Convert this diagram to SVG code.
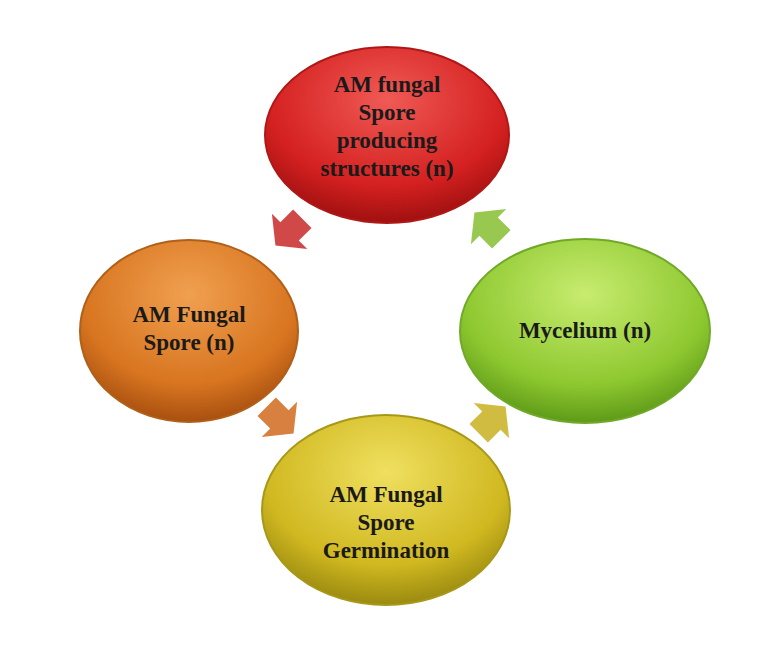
<svg xmlns="http://www.w3.org/2000/svg" width="776" height="671" viewBox="0 0 776 671">
<style>
.t{font-family:"Liberation Serif",serif;font-weight:bold;font-size:23px;fill:#1a1a1a;text-anchor:middle}
.e{stroke-width:2}
</style>
<defs>
<radialGradient id="gr" cx="50%" cy="30%" r="70%"><stop offset="0" stop-color="#f05a55"/><stop offset="0.7" stop-color="#d42020"/><stop offset="1" stop-color="#a01010"/></radialGradient>
<radialGradient id="go" cx="50%" cy="30%" r="70%"><stop offset="0" stop-color="#f0a050"/><stop offset="0.7" stop-color="#d87520"/><stop offset="1" stop-color="#a85010"/></radialGradient>
<radialGradient id="gg" cx="50%" cy="30%" r="70%"><stop offset="0" stop-color="#c8ec70"/><stop offset="0.7" stop-color="#8ec830"/><stop offset="1" stop-color="#5e9a18"/></radialGradient>
<radialGradient id="gy" cx="50%" cy="30%" r="70%"><stop offset="0" stop-color="#f0e060"/><stop offset="0.7" stop-color="#d0b820"/><stop offset="1" stop-color="#9a8a10"/></radialGradient>
<polygon id="arr" points="-16,-13 2,-13 2,-25 22,0 2,25 2,13 -16,13"/>
</defs>
<rect width="776" height="671" fill="#ffffff"/>
<g id="connectors">
<use href="#arr" transform="translate(291,230) rotate(135)" fill="#d04848"/>
<use href="#arr" transform="translate(490,228) rotate(-135)" fill="#98c850"/>
<use href="#arr" transform="translate(278,418) rotate(45)" fill="#d88040"/>
<use href="#arr" transform="translate(490,422) rotate(-45)" fill="#d0bc40"/>
</g>
<g id="n_red"><ellipse class="e" cx="387" cy="135" rx="122" ry="88" fill="url(#gr)" stroke="#b01818"/>
<text class="t" x="387" y="92">AM fungal</text><text class="t" x="387" y="120">Spore</text><text class="t" x="387" y="148">producing</text><text class="t" x="387" y="176">structures (n)</text></g>
<g id="n_orange"><ellipse class="e" cx="189" cy="331" rx="109" ry="91" fill="url(#go)" stroke="#b06018"/>
<text class="t" x="189" y="322">AM Fungal</text><text class="t" x="189" y="350">Spore (n)</text></g>
<g id="n_green"><ellipse class="e" cx="585" cy="331" rx="125" ry="92" fill="url(#gg)" stroke="#70a828"/>
<text class="t" x="585" y="338">Mycelium (n)</text></g>
<g id="n_yellow"><ellipse class="e" cx="386" cy="510" rx="124" ry="95" fill="url(#gy)" stroke="#a89818"/>
<text class="t" x="386" y="502">AM Fungal</text><text class="t" x="386" y="530">Spore</text><text class="t" x="386" y="558">Germination</text></g>
</svg>
